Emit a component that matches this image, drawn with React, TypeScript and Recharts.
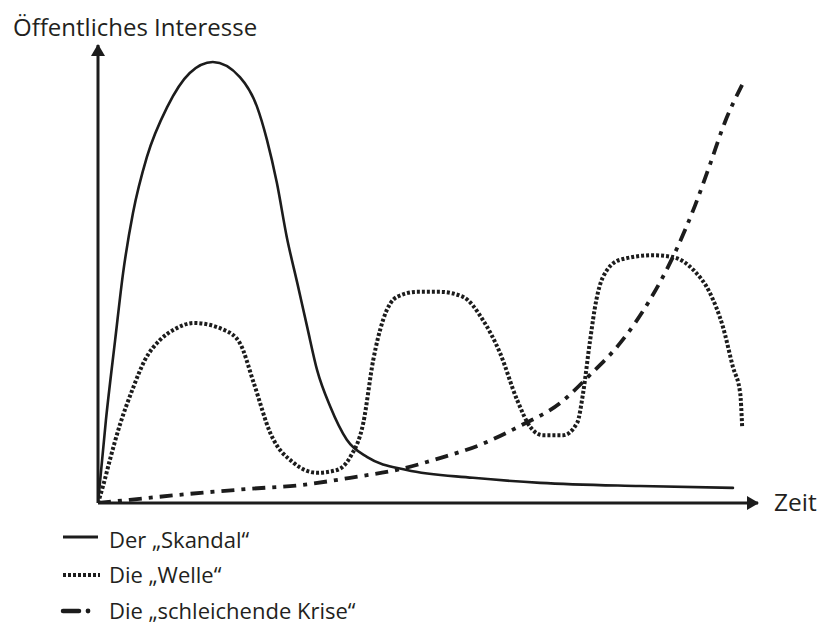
import React from 'react';
import { LineChart, Line, XAxis, YAxis, ReferenceDot, ReferenceLine } from 'recharts';

// Time (0..100) and public interest (0..100)
const SKANDAL_T = [0, 1.2, 2.6, 3.8, 5.3, 7.4, 10.5, 13.9, 17.4, 21.5, 24.1, 25.6, 27.1, 28.6, 30.2, 31.7, 33.2, 35.2, 37.7, 40.8, 46.8, 56.8, 67.0, 82.1, 96.2];
const SKANDAL_V = [0, 18.1, 35.6, 50.2, 63.3, 75.5, 86.5, 93.9, 96.3, 93.0, 86.5, 79.3, 69.9, 58.1, 48.0, 38.4, 29.0, 21.0, 13.8, 10.0, 7.2, 5.5, 4.4, 3.7, 3.3];

const WELLE_T = [0, 0.8, 1.8, 3.3, 5.2, 7.1, 9.4, 11.7, 14.5, 19.1, 21.5, 23.6, 26.1, 29.7, 33.2, 36.2, 38.2, 40.2, 41.7, 43.2, 45.3, 48.3, 51.8, 55.3, 58.3, 60.9, 63.5, 65.5, 67.4, 70.5, 72.6, 73.5, 74.5, 75.5, 76.5, 79.1, 84.1, 87.1, 90.2, 92.7, 94.7, 96.2, 97.3, 97.6];
const WELLE_V = [0, 3.9, 9.4, 17.0, 24.7, 31.2, 35.6, 38.0, 39.3, 37.8, 34.9, 26.2, 15.3, 8.7, 6.6, 7.2, 10.0, 17.5, 31.2, 40.0, 45.0, 46.1, 46.1, 45.0, 40.0, 32.8, 22.5, 16.6, 14.8, 14.8, 17.5, 24.0, 34.9, 44.3, 49.3, 53.1, 54.1, 53.7, 50.9, 45.9, 38.4, 29.7, 24.0, 16.6];

const KRISE_T = [0, 4.8, 13.9, 23.0, 30.6, 38.2, 45.8, 51.8, 57.9, 63.9, 70.0, 74.5, 79.1, 83.6, 87.4, 90.5, 92.7, 95.0, 97.6];
const KRISE_V = [0, 0.7, 2.0, 3.1, 3.9, 5.5, 7.4, 9.8, 12.7, 16.8, 21.8, 27.9, 34.9, 44.3, 54.6, 65.1, 73.8, 83.2, 91.3];

const SERIES_NAMES = ['Der „Skandal“', 'Die „Welle“', 'Die „schleichende Krise“'];
const Y_TITLE = 'Öffentliches Interesse';
const X_TITLE = 'Zeit';

const toPoints = (t: number[], v: number[]) => t.map((x, i) => ({ t: x, v: v[i] }));

const INK = '#1c1c1c';
const TEXT = '#231f20';
const FONT = '"Open Sans", sans-serif';

const SERIES = [
  { name: SERIES_NAMES[0], data: toPoints(SKANDAL_T, SKANDAL_V), dash: undefined as string | undefined, width: 2.6, cap: 'round' as const },
  { name: SERIES_NAMES[1], data: toPoints(WELLE_T, WELLE_V), dash: '3 2', width: 4, cap: 'butt' as const },
  { name: SERIES_NAMES[2], data: toPoints(KRISE_T, KRISE_V), dash: '13 7 4 7', width: 3.8, cap: 'butt' as const },
];

const ArrowRight = (p: any) => (
  <polygon points={`${p.cx + 1},${p.cy} ${p.cx - 11},${p.cy - 7} ${p.cx - 11},${p.cy + 7}`} fill={INK} />
);
const ArrowUp = (p: any) => (
  <polygon points={`${p.cx},${p.cy - 1} ${p.cx - 7},${p.cy + 11} ${p.cx + 7},${p.cy + 11}`} fill={INK} />
);

export default function App() {
  return (
    <div style={{ position: 'absolute', left: 0, top: 0, width: 821, height: 623, background: '#fff', fontFamily: FONT, color: TEXT, overflow: 'hidden' }}>
      <LineChart
        width={821}
        height={623}
        margin={{ top: 45, left: 98, right: 63, bottom: 120 }}
        style={{ position: 'absolute', left: 0, top: 0 }}
      >
        <XAxis type="number" dataKey="t" domain={[0, 100]} hide allowDataOverflow />
        <YAxis type="number" dataKey="v" domain={[0, 100]} hide allowDataOverflow />
        <ReferenceLine y={0} stroke={INK} strokeWidth={3} ifOverflow="visible" />
        <ReferenceLine x={0} stroke={INK} strokeWidth={3} ifOverflow="visible" />
        {SERIES.map((s) => (
          <Line key={s.name} data={s.data} dataKey="v" name={s.name} type="monotone" stroke={INK}
            strokeWidth={s.width} strokeDasharray={s.dash} strokeLinecap={s.cap} dot={false}
            activeDot={false} isAnimationActive={false} />
        ))}
        <ReferenceDot x={100} y={0} r={0} shape={ArrowRight} ifOverflow="visible" />
        <ReferenceDot x={0} y={100} r={0} shape={ArrowUp} ifOverflow="visible" />
      </LineChart>

      <div style={{ position: 'absolute', left: 13, top: 10, fontSize: 24, whiteSpace: 'nowrap', lineHeight: 'normal' }}>{Y_TITLE}</div>
      <div style={{ position: 'absolute', left: 774, top: 485, fontSize: 24.5, whiteSpace: 'nowrap', lineHeight: 'normal' }}>{X_TITLE}</div>

      <svg width={60} height={103} style={{ position: 'absolute', left: 55, top: 520 }}>
        <line x1={8} y1={17} x2={43} y2={17} stroke={INK} strokeWidth={3} />
        <line x1={8} y1={55} x2={45} y2={55} stroke={INK} strokeWidth={4} strokeDasharray="3 2" />
        <line x1={8} y1={91} x2={24} y2={91} stroke={INK} strokeWidth={4.5} strokeLinecap="round" />
        <circle cx={33} cy={91} r={2.4} fill={INK} />
      </svg>
      {SERIES.map((s, i) => (
        <div key={s.name} style={{ position: 'absolute', left: 109, top: 527.5 + i * 35.5, fontSize: 22, whiteSpace: 'nowrap', lineHeight: '22px' }}>{s.name}</div>
      ))}
    </div>
  );
}
